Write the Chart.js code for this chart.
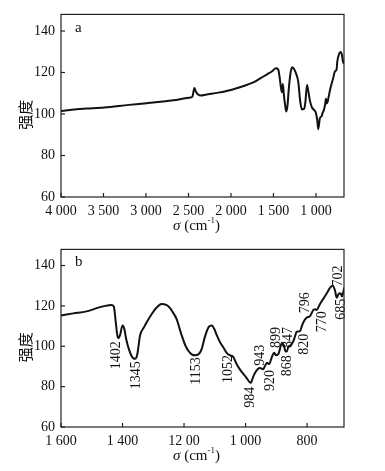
<!DOCTYPE html>
<html>
<head>
<meta charset="utf-8">
<script src="https://cdn.jsdelivr.net/npm/chart.js@4/dist/chart.umd.min.js"></script>
<style>
    body { margin: 0; background: #fff; }
    canvas { display: block; }
</style>
</head>
<body>
<canvas id="chartA" width="385" height="235"></canvas>
<canvas id="chartB" width="385" height="236"></canvas>
<script>
// panel a: full spectrum
var waveA = [4000, 3900, 3816, 3700, 3490, 3200, 2992, 2800, 2678, 2494, 2455, 2430, 2415, 2390, 2350, 2300, 2150, 2000, 1850, 1737, 1650, 1580, 1520, 1470, 1445, 1425, 1412, 1400, 1390, 1378, 1365, 1350, 1335, 1320, 1300, 1280, 1260, 1230, 1208, 1185, 1165, 1140, 1125, 1105, 1090, 1070, 1045, 1023, 1000, 985, 973, 953, 934, 922, 906, 894, 882, 874, 863, 855, 843, 827, 796, 776, 757, 749, 725, 709, 694, 678, 670];
var valueA = [101.4, 101.9, 102.3, 102.6, 103.1, 104.4, 105.2, 106.0, 106.6, 107.8, 108.3, 112.5, 111, 109.5, 108.9, 109.3, 110.3, 111.6, 113.5, 115.2, 117.3, 119.0, 120.5, 122, 121.5, 117, 112.7, 110.5, 114.5, 109.5, 105, 101.2, 104, 112, 119.5, 122.5, 121.8, 119, 115.5, 106, 102.2, 102.5, 105.5, 114, 111, 106.2, 103, 102, 100.5, 97, 92.7, 98.1, 98.9, 100.5, 102, 104.3, 107.4, 105.1, 105.8, 107.4, 109.8, 112.9, 117.5, 120.6, 121.4, 125.3, 129.2, 129.9, 128.4, 124.5, 126];
var ticksA = [4000, 3500, 3000, 2500, 2000, 1500, 1000];
var tickLabelsA = ["4 000", "3 500", "3 000", "2 500", "2 000", "1 500", "1 000"];

// panel b: 1600-680 detail
var waveB = [1600, 1560, 1517, 1473, 1445, 1435, 1428, 1422, 1417, 1413, 1408, 1400, 1394, 1388, 1378, 1368, 1359, 1352, 1343, 1330, 1321, 1305, 1289, 1273, 1258, 1246, 1235, 1224, 1214, 1208, 1196, 1186, 1175, 1164, 1152, 1143, 1132, 1120, 1110, 1100, 1094, 1083, 1072, 1060, 1050, 1040, 1030, 1018, 1000, 983, 975, 969, 960, 953, 943, 936, 930, 923, 915, 907, 901, 893, 886, 882, 876, 870, 866, 861, 853, 845, 838, 834, 823, 817, 812, 801, 790, 785, 779, 773, 769, 758, 747, 735, 725, 717, 709, 704, 699, 695, 690, 687, 683, 679];
var valueB = [115.3, 116.3, 117.3, 119.4, 120.3, 120.5, 119.5, 112, 105.5, 104, 105.5, 110.3, 108.5, 103.5, 98, 94.5, 93.8, 96, 105.3, 109.5, 112, 116, 119.2, 120.9, 120.5, 119, 116.5, 113.4, 108.5, 105.6, 100.5, 97.8, 96, 95.5, 96.2, 98.5, 104.8, 109.5, 110.3, 108, 105.6, 102, 99.4, 96.5, 95.5, 94.7, 91.5, 88.4, 85, 81.9, 85, 86.9, 88.8, 89.2, 88.6, 90.5, 91.8, 91.2, 94.5, 96.8, 95.5, 96.3, 100, 101.7, 100.5, 97.5, 97.4, 99.7, 100.5, 102.5, 105.5, 107.2, 107.5, 110, 111.9, 114.2, 115, 116.5, 118.1, 118.3, 118, 121, 123.6, 126.5, 129.1, 130, 127.5, 124.1, 125.5, 126.3, 126, 124.7, 126.5, 129.1];
var ticksB = [1600, 1400, 1200, 1000, 800];
var tickLabelsB = ["1 600", "1 400", "12 00", "1 000", "800"];

// peak labels of panel b: text, wavenumber, value where the label is centred
var peakText = ["1402", "1345", "1153", "1052", "984", "943", "920", "899", "868", "847", "820", "796", "770", "702", "685"];
var peakWave = [1419, 1356, 1159, 1056, 983, 953, 918, 899, 864, 860, 810, 807, 752, 698, 690];
var peakValue = [95.5, 85.6, 87.7, 88.8, 74.7, 95.5, 83, 104.4, 90.3, 104.4, 101, 121.6, 112.2, 134.8, 118.4];

var yTicks = [60, 80, 100, 120, 140];
var serif = "'Liberation Serif', 'DejaVu Serif', serif";

var framePlugin = {
    id: "frame",
    afterDraw: function (chart) {
        var ctx = chart.ctx;
        var area = chart.chartArea;
        var xs = chart.scales.x;
        var ys = chart.scales.y;
        var opts = chart.options.plugins.frame;
        ctx.save();
        ctx.strokeStyle = "#222";
        ctx.lineWidth = 1.2;
        ctx.strokeRect(area.left, area.top, area.right - area.left, area.bottom - area.top);
        // inward ticks on the bottom and left axes
        opts.ticks.forEach(function (v) {
            var px = xs.getPixelForValue(v);
            ctx.beginPath();
            ctx.moveTo(px, area.bottom);
            ctx.lineTo(px, area.bottom - 4);
            ctx.stroke();
        });
        yTicks.forEach(function (v) {
            var py = ys.getPixelForValue(v);
            ctx.beginPath();
            ctx.moveTo(area.left, py);
            ctx.lineTo(area.left + 4, py);
            ctx.stroke();
        });
        // panel letter
        ctx.fillStyle = "#111";
        ctx.font = "15px " + serif;
        ctx.textAlign = "left";
        ctx.textBaseline = "middle";
        ctx.fillText(opts.letter, area.left + 14, area.top + opts.letterDy);
        // y axis title, a bit below the middle like the original
        ctx.save();
        ctx.translate(area.left - 36, (area.top + area.bottom) / 2 + 9);
        ctx.rotate(-Math.PI / 2);
        ctx.textAlign = "center";
        ctx.font = "15px 'Noto Sans CJK SC', sans-serif";
        ctx.fillText("强度", 0, 0);
        ctx.restore();
        // x axis title: sigma (cm-1)
        ctx.font = "italic 15px " + serif;
        var t1 = "σ";
        var t2 = " (cm";
        var t3 = "-1";
        var t4 = ")";
        var w1 = ctx.measureText(t1).width;
        ctx.font = "15px " + serif;
        var w2 = ctx.measureText(t2).width;
        var w4 = ctx.measureText(t4).width;
        ctx.font = "9px " + serif;
        var w3 = ctx.measureText(t3).width;
        var cx = (area.left + area.right) / 2 - 6;
        var x0 = cx - (w1 + w2 + w3 + w4) / 2;
        var ty = area.bottom + 29;
        ctx.font = "italic 15px " + serif;
        ctx.fillText(t1, x0, ty);
        ctx.font = "15px " + serif;
        ctx.fillText(t2, x0 + w1, ty);
        ctx.font = "9px " + serif;
        ctx.fillText(t3, x0 + w1 + w2, ty - 5);
        ctx.font = "15px " + serif;
        ctx.fillText(t4, x0 + w1 + w2 + w3, ty);
        ctx.restore();
    },
};

var peakPlugin = {
    id: "peaks",
    afterDatasetsDraw: function (chart) {
        if (!chart.options.plugins.peaks.show) return;
        var ctx = chart.ctx;
        var xs = chart.scales.x;
        var ys = chart.scales.y;
        ctx.save();
        ctx.fillStyle = "#111";
        ctx.font = "14px " + serif;
        ctx.textAlign = "center";
        ctx.textBaseline = "middle";
        peakText.forEach(function (t, i) {
            ctx.save();
            ctx.translate(xs.getPixelForValue(peakWave[i]), ys.getPixelForValue(peakValue[i]));
            ctx.rotate(-Math.PI / 2);
            ctx.fillText(t, 0, 0);
            ctx.restore();
        });
        ctx.restore();
    },
};

function makePanel(id, waves, values, xMin, xMax, xTicks, xLabels, letter, topPad, xHeight, showPeaks) {
    var points = waves.map(function (w, i) {
        return { x: w, y: values[i] };
    });
    return new Chart(document.getElementById(id).getContext("2d"), {
        type: "line",
        data: {
            datasets: [
                {
                    data: points,
                    borderColor: "#111",
                    borderWidth: 2,
                    pointRadius: 0,
                    fill: false,
                    cubicInterpolationMode: "monotone",
                },
            ],
        },
        options: {
            responsive: false,
            animation: false,
            layout: { padding: { left: 0, right: 41, top: topPad, bottom: 0 } },
            plugins: {
                legend: { display: false },
                tooltip: { enabled: false },
                frame: { ticks: xTicks, letter: letter, letterDy: letter === "a" ? 14 : 13 },
                peaks: { show: showPeaks },
            },
            scales: {
                x: {
                    type: "linear",
                    reverse: true,
                    min: xMin,
                    max: xMax,
                    grid: { display: false, drawTicks: false },
                    border: { display: false },
                    afterBuildTicks: function (scale) {
                        scale.ticks = xTicks.map(function (v) {
                            return { value: v };
                        });
                    },
                    afterFit: function (scale) {
                        scale.height = xHeight;
                    },
                    ticks: {
                        autoSkip: false,
                        maxRotation: 0,
                        padding: 6,
                        color: "#111",
                        font: { family: serif, size: 14 },
                        callback: function (value) {
                            var k = xTicks.indexOf(value);
                            return k >= 0 ? xLabels[k] : "";
                        },
                    },
                },
                y: {
                    min: 60,
                    max: 148,
                    grid: { display: false, drawTicks: false },
                    border: { display: false },
                    afterBuildTicks: function (scale) {
                        scale.ticks = yTicks.map(function (v) {
                            return { value: v };
                        });
                    },
                    afterFit: function (scale) {
                        scale.width = 61;
                    },
                    ticks: {
                        padding: 6,
                        color: "#111",
                        font: { family: serif, size: 14 },
                    },
                },
            },
        },
        plugins: [framePlugin, peakPlugin],
    });
}

makePanel("chartA", waveA, valueA, 670, 4000, ticksA, tickLabelsA, "a", 8, 38, false);
makePanel("chartB", waveB, valueB, 680, 1600, ticksB, tickLabelsB, "b", 3, 44, true);
</script>
</body>
</html>
